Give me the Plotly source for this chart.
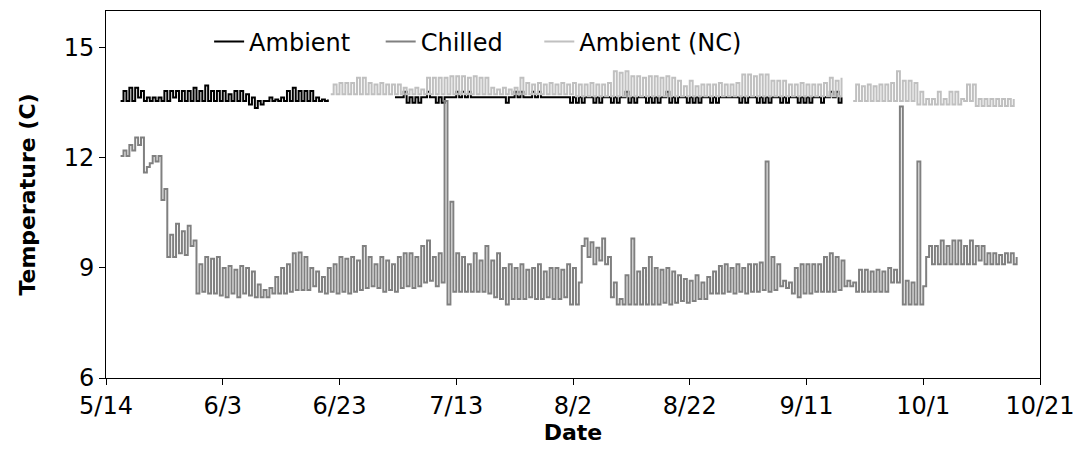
import pandas as pd
import plotly.graph_objects as go

# ---------------- data (daily low / high readings, 12 h apart) ----------------
CHILLED_START = "2005-05-16 12:00"
chilled_low = [
    12.05, 12.05, 12.2, 12.35, 11.6, 11.85, 11.9, 10.85, 9.3, 9.3,
    9.4, 9.35, 9.6, 8.3, 8.35, 8.3, 8.3, 8.25, 8.2, 8.3,
    8.2, 8.3, 8.25, 8.2, 8.2, 8.2, 8.3, 8.3, 8.3, 8.35,
    8.4, 8.4, 8.4, 8.5, 8.35, 8.3, 8.35, 8.3, 8.35, 8.3,
    8.35, 8.4, 8.45, 8.5, 8.45, 8.35, 8.4, 8.35, 8.45, 8.5,
    8.45, 8.5, 8.6, 8.65, 8.5, 8.6, 8.0, 8.35, 8.35, 8.35,
    8.35, 8.35, 8.35, 8.3, 8.2, 8.15, 8.0, 8.15, 8.15, 8.15,
    8.2, 8.15, 8.15, 8.2, 8.15, 8.15, 8.2, 8.0, 8.0, 9.6,
    9.3, 9.1, 9.2, 9.1, 8.2, 8.0, 8.0, 8.0, 8.0, 8.0,
    8.0, 8.0, 8.0, 8.05, 8.0, 8.05, 8.1, 8.05, 8.1, 8.15,
    8.15, 8.3, 8.3, 8.3, 8.35, 8.3, 8.35, 8.3, 8.35, 8.35,
    8.4, 8.35, 8.4, 8.5, 8.45, 8.3, 8.2, 8.3, 8.3, 8.35,
    8.35, 8.35, 8.35, 8.4, 8.5, 8.5, 8.35, 8.35, 8.35, 8.35,
    8.35, 8.35, 8.6, 8.6, 8.0, 8.0, 8.0, 8.0, 9.3, 9.1,
    9.1, 9.1, 9.1, 9.1, 9.1, 9.1, 9.1, 9.2, 9.1, 9.1,
    9.1, 9.1, 9.15, 9.1,
]
chilled_high = [
    12.2, 12.35, 12.55, 12.55, 11.75, 12.05, 12.05, 11.15, 9.9, 10.2,
    10.0, 10.15, 9.75, 9.1, 9.3, 9.25, 9.3, 9.0, 9.05, 8.95,
    9.05, 9.0, 8.9, 8.55, 8.4, 8.45, 8.75, 9.0, 9.1, 9.4,
    9.42, 9.3, 9.0, 8.9, 8.75, 9.0, 9.1, 9.3, 9.25, 9.3,
    9.2, 9.6, 9.3, 9.1, 9.3, 9.2, 9.1, 9.3, 9.4, 9.4,
    9.3, 9.6, 9.75, 9.3, 9.4, 13.55, 10.8, 9.4, 9.3, 9.1,
    9.4, 9.2, 9.6, 9.2, 9.4, 9.0, 9.1, 9.0, 9.1, 8.95,
    9.0, 9.1, 8.9, 9.0, 9.0, 8.95, 9.1, 9.0, 8.6, 9.8,
    9.7, 9.55, 9.8, 9.3, 8.6, 8.15, 8.8, 9.8, 8.9, 9.0,
    9.3, 9.0, 8.95, 9.0, 8.9, 8.8, 8.7, 8.65, 8.8, 8.6,
    8.75, 8.9, 9.05, 9.1, 9.0, 9.1, 9.0, 9.1, 9.1, 9.15,
    11.9, 9.3, 9.1, 8.65, 8.6, 9.0, 9.1, 9.1, 9.1, 9.1,
    9.3, 9.4, 9.3, 9.2, 8.65, 8.6, 8.95, 8.95, 8.9, 8.95,
    8.9, 9.0, 8.95, 13.4, 8.65, 8.6, 11.9, 8.5, 9.6, 9.6,
    9.75, 9.6, 9.75, 9.75, 9.6, 9.75, 9.6, 9.6, 9.4, 9.4,
    9.35, 9.4, 9.4, 9.3,
]

AMBIENT_START_1 = "2005-05-16 12:00"
ambient_low_1 = [
    13.55, 13.55, 13.55, 13.64, 13.55, 13.55, 13.55, 13.55, 13.55, 13.64,
    13.55, 13.55, 13.55, 13.55, 13.55, 13.55, 13.55, 13.55, 13.55, 13.55,
    13.55, 13.55, 13.45, 13.36, 13.45, 13.55, 13.55, 13.55, 13.55, 13.55,
    13.55, 13.55, 13.55, 13.55, 13.55, 13.55,
]
ambient_high_1 = [
    13.82, 13.91, 13.91, 13.82, 13.64, 13.64, 13.64, 13.82, 13.82, 13.82,
    13.82, 13.82, 13.91, 13.82, 13.97, 13.82, 13.82, 13.82, 13.73, 13.82,
    13.82, 13.73, 13.64, 13.55, 13.55, 13.64, 13.59, 13.64, 13.82, 13.91,
    13.82, 13.82, 13.82, 13.64, 13.59, 13.59,
]
AMBIENT_START_2 = "2005-07-02 12:00"
ambient_low_2 = [
    13.65, 13.65, 13.5, 13.5, 13.5, 13.65, 13.65, 13.5, 13.5, 13.65,
    13.65, 13.65, 13.65, 13.65, 13.65, 13.65, 13.65, 13.65, 13.65, 13.5,
    13.65, 13.65, 13.65, 13.65, 13.65, 13.65, 13.65, 13.65, 13.65, 13.65,
    13.5, 13.5, 13.5, 13.65, 13.5, 13.5, 13.65, 13.5, 13.5, 13.65,
    13.5, 13.5, 13.65, 13.5, 13.5, 13.5, 13.65, 13.5, 13.5, 13.65,
    13.5, 13.5, 13.5, 13.65, 13.5, 13.5, 13.65, 13.65, 13.65, 13.5,
    13.5, 13.65, 13.5, 13.5, 13.5, 13.65, 13.5, 13.5, 13.65, 13.5,
    13.5, 13.5, 13.65, 13.5, 13.65, 13.65, 13.5,
]
ambient_high_2 = [
    13.65, 13.8, 13.65, 13.65, 13.65, 13.8, 13.65, 13.65, 13.65, 13.65,
    13.8, 13.8, 13.8, 13.65, 13.65, 13.65, 13.65, 13.65, 13.65, 13.65,
    13.8, 13.8, 13.65, 13.8, 13.8, 13.65, 13.65, 13.65, 13.65, 13.65,
    13.65, 13.65, 13.65, 13.65, 13.65, 13.65, 13.65, 13.65, 13.65, 13.8,
    13.65, 13.65, 13.65, 13.65, 13.65, 13.65, 13.8, 13.65, 13.65, 13.65,
    13.65, 13.65, 13.65, 13.65, 13.65, 13.65, 13.65, 13.65, 13.65, 13.65,
    13.65, 13.65, 13.65, 13.65, 13.65, 13.65, 13.65, 13.65, 13.65, 13.65,
    13.65, 13.65, 13.65, 13.65, 13.8, 13.8, 13.65,
]

NC_START_1 = "2005-06-21 12:00"
nc_low_1 = [
    13.73, 13.73, 13.73, 13.73, 13.73, 13.73, 13.73, 13.73, 13.73, 13.73,
    13.73, 13.73, 13.73, 13.73, 13.73, 13.73, 13.73, 13.73, 13.73, 13.73,
    13.73, 13.73, 13.73, 13.73, 13.73, 13.73, 13.73, 13.73, 13.73, 13.73,
    13.73, 13.73, 13.73, 13.73, 13.73, 13.73, 13.73, 13.73, 13.73, 13.73,
    13.73, 13.73, 13.68, 13.68, 13.68, 13.68, 13.68, 13.68, 13.68, 13.68,
    13.68, 13.68, 13.68, 13.68, 13.68, 13.68, 13.68, 13.68, 13.68, 13.68,
    13.68, 13.68, 13.68, 13.68, 13.68, 13.68, 13.68, 13.68, 13.68, 13.68,
    13.68, 13.68, 13.68, 13.68, 13.68, 13.68, 13.68, 13.68, 13.68, 13.68,
    13.68, 13.68, 13.68, 13.68, 13.68, 13.68, 13.68, 13.68,
]
nc_high_1 = [
    14.0, 14.04, 14.04, 14.04, 14.18, 14.18, 14.04, 14.0, 14.04, 14.0,
    14.0, 14.0, 13.91, 13.86, 13.91, 13.86, 14.18, 14.18, 14.18, 14.18,
    14.22, 14.22, 14.22, 14.18, 14.22, 14.18, 14.18, 13.91, 13.86, 13.91,
    13.86, 13.91, 14.18, 14.04, 14.0, 14.04, 14.0, 14.04, 14.0, 14.04,
    14.0, 14.04, 14.0, 14.0, 14.04, 14.0, 14.0, 14.04, 14.36, 14.32,
    14.36, 14.22, 14.22, 14.18, 14.22, 14.22, 14.18, 14.22, 14.18, 14.1,
    13.95, 14.1, 13.95, 14.0, 14.0, 14.0, 14.04, 14.0, 14.0, 14.04,
    14.27, 14.27, 14.22, 14.27, 14.27, 14.1, 14.1, 14.1, 14.0, 14.0,
    14.04, 14.0, 14.0, 14.0, 14.04, 14.18, 14.1, 14.18,
]
NC_START_2 = "2005-09-19 00:00"
nc_low_2 = [
    13.55, 13.55, 13.55, 13.55, 13.55, 13.55, 13.55, 13.55, 13.55, 13.55,
    13.55, 13.45, 13.45, 13.45, 13.45, 13.45, 13.45, 13.45, 13.45, 13.55,
    13.55, 13.41, 13.41, 13.41, 13.41, 13.41, 13.41, 13.41,
]
nc_high_2 = [
    14.0, 13.95, 14.0, 13.95, 14.0, 14.0, 14.04, 14.36, 14.1, 14.1,
    14.04, 13.8, 13.6, 13.6, 13.8, 13.6, 13.8, 13.8, 13.6, 14.0,
    14.0, 13.6, 13.6, 13.6, 13.6, 13.6, 13.6, 13.6,
]

X_TICK_START = "2005-05-14"
X_END = "2005-10-21"
Y_TICKS = [6, 9, 12, 15]


def build(segments):
    xs, ys = [], []
    for start, lows, highs in segments:
        t0 = pd.Timestamp(start)
        for k, (lo, hi) in enumerate(zip(lows, highs)):
            xs += [t0 + pd.Timedelta(hours=24 * k), t0 + pd.Timedelta(hours=24 * k + 12)]
            ys += [lo, hi]
        xs.append(None)
        ys.append(None)
    return xs, ys


FONT = "DejaVu Sans"

fig = go.Figure()
series = [
    ("Ambient", [(AMBIENT_START_1, ambient_low_1, ambient_high_1),
                 (AMBIENT_START_2, ambient_low_2, ambient_high_2)], "#000000", "legend"),
    ("Chilled", [(CHILLED_START, chilled_low, chilled_high)], "#808080", "legend2"),
    ("Ambient (NC)", [(NC_START_1, nc_low_1, nc_high_1),
                      (NC_START_2, nc_low_2, nc_high_2)], "#c0c0c0", "legend3"),
]
for name, segs, color, leg in series:
    xs, ys = build(segs)
    fig.add_trace(go.Scatter(
        x=xs, y=ys, name=name, mode="lines",
        line=dict(color=color, width=2, shape="hv"),
        connectgaps=False, legend=leg,
    ))

legend_common = dict(orientation="h", y=0.977, xanchor="left", yanchor="top",
                     bgcolor="rgba(0,0,0,0)", font=dict(size=24))
fig.update_layout(
    width=1085, height=470,
    margin=dict(l=106, r=37, t=10, b=92),
    paper_bgcolor="white", plot_bgcolor="white",
    font=dict(family=FONT, size=24, color="black"),
    showlegend=True,
    legend=dict(x=0.1104, **legend_common),
    legend2=dict(x=0.2941, **legend_common),
    legend3=dict(x=0.4639, **legend_common),
)
fig.update_xaxes(
    type="date", range=[X_TICK_START, X_END],
    tick0=X_TICK_START, dtick=20 * 86400000, tickformat="%-m/%-d",
    ticks="outside", ticklen=6, tickcolor="black",
    showline=True, linecolor="black", linewidth=1, mirror=True,
    showgrid=False, zeroline=False,
    ticklabelstandoff=0,
    title=dict(text="<b>Date</b>", font=dict(size=22), standoff=3),
)
fig.update_yaxes(
    range=[6, 16], tickvals=Y_TICKS,
    ticks="outside", ticklen=6, tickcolor="black",
    showline=True, linecolor="black", linewidth=1, mirror=True,
    showgrid=False, zeroline=False,
    title=dict(text="<b>Temperature (C)</b>", font=dict(size=22), standoff=21),
)

fig.write_html("out.html")
